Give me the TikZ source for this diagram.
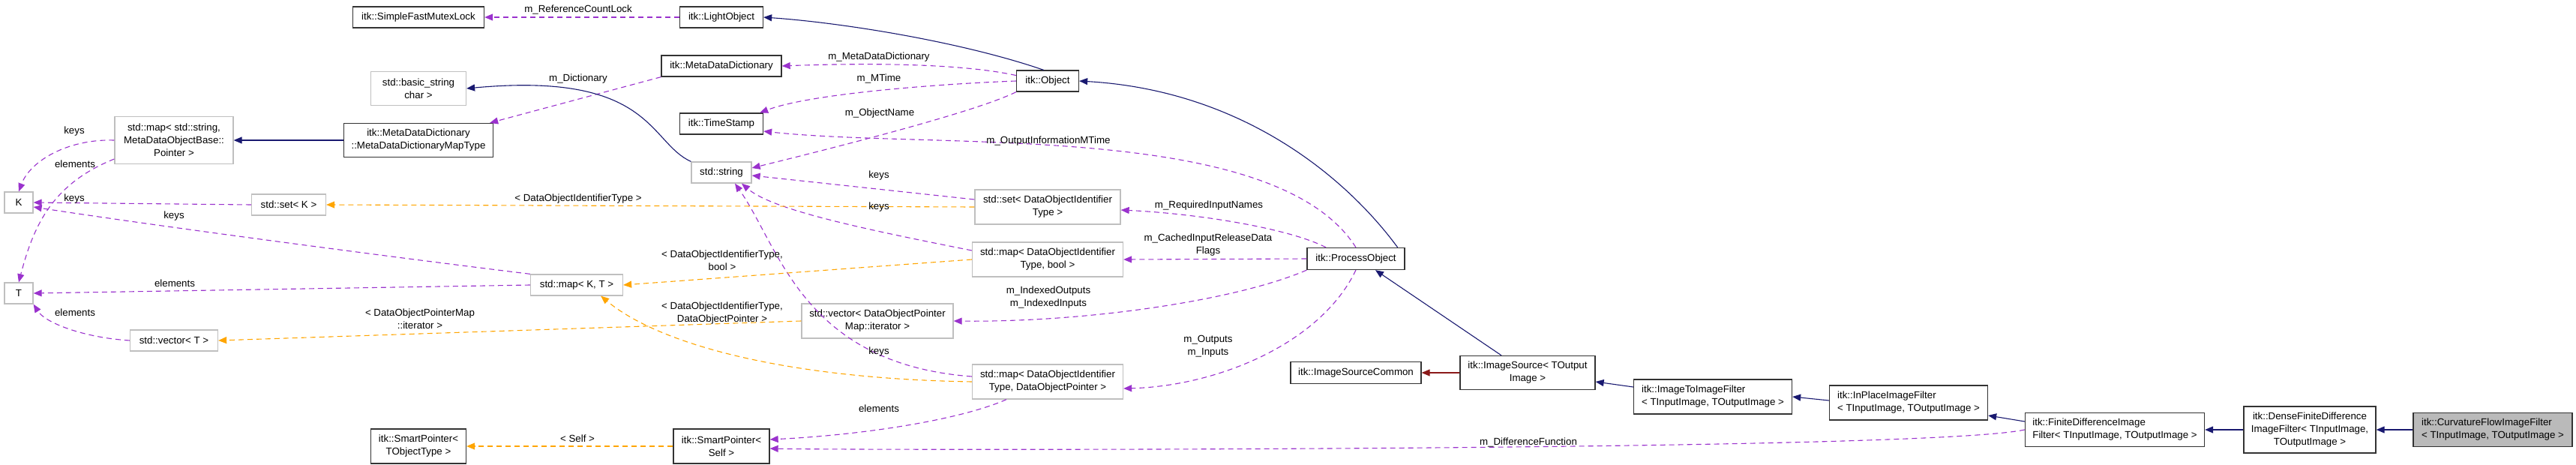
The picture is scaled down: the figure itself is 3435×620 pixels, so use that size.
\documentclass[tikz,border=0pt]{standalone}
\usepackage{fontspec}
\setmainfont{Liberation Sans}
\usetikzlibrary{arrows.meta}
\definecolor{navy}{HTML}{191970}
\definecolor{purp}{HTML}{9A32CD}
\definecolor{orng}{HTML}{FFA500}
\definecolor{dred}{HTML}{8B1A1A}
\begin{document}
\begin{tikzpicture}[x=1pt,y=-1pt,
 every node/.style={font=\fontsize{13.3}{17}\selectfont, inner sep=0pt, align=center},
 cls/.style={draw=black!80, line width=1.3pt, fill=white},
 ext/.style={draw=black!25, line width=1.3pt, fill=white},
 cur/.style={draw=black!80, line width=1.3pt, fill=black!27},
 tip/.style={-{Triangle[length=11pt,width=9pt]}},
 inh/.style={draw=navy, line width=1.1pt, tip},
 red/.style={draw=dred, line width=1.1pt, tip},
 use/.style={draw=purp, line width=1.1pt, dash pattern=on 7pt off 5pt, tip},
 tpl/.style={draw=orng, line width=1.1pt, dash pattern=on 7pt off 5pt, tip}]
\useasboundingbox (0,0) rectangle (3435,620);
% nodes
\node[cls,minimum width=175pt,minimum height=28pt] (sfml) at (558,23) {itk::SimpleFastMutexLock};
\node[cls,minimum width=111pt,minimum height=28pt] (lo) at (962,23) {itk::LightObject};
\node[cls,minimum width=160pt,minimum height=28pt] (mdd) at (962,88) {itk::MetaDataDictionary};
\node[cls,minimum width=83pt,minimum height=28pt] (obj) at (1397,108) {itk::Object};
\node[cls,minimum width=111pt,minimum height=28pt] (ts) at (962,165) {itk::TimeStamp};
\node[ext,minimum width=127pt,minimum height=45pt] (bs) at (558,118) {std::basic\_string\\char >};
\node[cls,minimum width=199pt,minimum height=45pt] (mt) at (558,187) {itk::MetaDataDictionary\\::MetaDataDictionaryMapType};
\node[ext,minimum width=158pt,minimum height=63pt] (ms) at (232,187) {std::map< std::string,\\MetaDataObjectBase::\\Pointer >};
\node[ext,minimum width=80pt,minimum height=28pt] (str) at (962,230) {std::string};
\node[ext,minimum width=38pt,minimum height=28pt] (K) at (25,270) {K};
\node[ext,minimum width=38pt,minimum height=28pt] (T) at (25,391) {T};
\node[ext,minimum width=99pt,minimum height=28pt] (sk) at (385,273) {std::set< K >};
\node[ext,minimum width=123pt,minimum height=28pt] (mkt) at (769,380) {std::map< K, T >};
\node[ext,minimum width=117pt,minimum height=28pt] (vt) at (232,454) {std::vector< T >};
\node[cls,minimum width=127pt,minimum height=46pt] (spt) at (558,595) {itk::SmartPointer<\\TObjectType >};
\node[cls,minimum width=128pt,minimum height=46pt] (sps) at (962,595) {itk::SmartPointer<\\Self >};
\node[ext,minimum width=194pt,minimum height=46pt] (sd) at (1397,276) {std::set< DataObjectIdentifier\\Type >};
\node[ext,minimum width=201pt,minimum height=46pt] (mb) at (1397,346) {std::map< DataObjectIdentifier\\Type, bool >};
\node[ext,minimum width=202pt,minimum height=46pt] (vd) at (1170,428) {std::vector< DataObjectPointer\\Map::iterator >};
\node[ext,minimum width=201pt,minimum height=46pt] (md) at (1397,509) {std::map< DataObjectIdentifier\\Type, DataObjectPointer >};
\node[cls,minimum width=130pt,minimum height=29pt] (po) at (1808,345) {itk::ProcessObject};
\node[cls,minimum width=174pt,minimum height=29pt] (isc) at (1808,497) {itk::ImageSourceCommon};
\node[cls,minimum width=180pt,minimum height=45pt] (is) at (2037,497) {itk::ImageSource< TOutput\\Image >};
\node[cls,minimum width=211pt,minimum height=46pt,align=left] (iti) at (2284,529) {itk::ImageToImageFilter\\< TInputImage, TOutputImage >};
\node[cls,minimum width=211pt,minimum height=46pt,align=left] (ip) at (2545,537) {itk::InPlaceImageFilter\\< TInputImage, TOutputImage >};
\node[cls,minimum width=239pt,minimum height=45pt,align=left] (fd) at (2820,573) {itk::FiniteDifferenceImage\\Filter< TInputImage, TOutputImage >};
\node[cls,minimum width=176pt,minimum height=62pt] (dn) at (3080,573) {itk::DenseFiniteDifference\\ImageFilter< TInputImage,\\TOutputImage >};
\node[cur,minimum width=212pt,minimum height=45pt,align=left] (cv) at (3324,573) {itk::CurvatureFlowImageFilter\\< TInputImage, TOutputImage >};
% purple usage edges
\draw[use] (lo.west) -- (sfml.east);
\draw[use] (obj.170) .. controls (1280,84) and (1150,84) .. (mdd.east);
\draw[use] (obj.west) .. controls (1250,112) and (1080,125) .. ([xshift=-5pt]ts.north east);
\draw[use] (obj.south west) .. controls (1300,150) and (1100,200) .. ([yshift=6pt]str.east);
\draw[use] (mdd.south west) -- ([xshift=-5pt]mt.north east);
\draw[use] (ms.west) .. controls (90,185) and (40,215) .. (K.north);
\draw[use] ([yshift=-25pt]ms.west) .. controls (70,245) and (45,300) .. (T.north);
\draw[use] (sk.west) -- (K.east);
\draw[use] (mkt.north west) .. controls (500,340) and (200,300) .. ([yshift=-6pt]K.east);
\draw[use] (mkt.west) -- (T.east);
\draw[use] (vt.west) .. controls (110,450) and (60,430) .. (T.south east);
\draw[use] ([yshift=10pt]sd.west) -- ([yshift=-4pt]str.east);
\draw[use] ([yshift=12pt]mb.west) .. controls (1150,305) and (1030,280) .. ([xshift=27pt]str.south);
\draw[use] ([yshift=7pt]md.west) .. controls (1070,485) and (1040,330) .. ([xshift=18pt]str.south);
\draw[use] ([xshift=-55pt]md.south) .. controls (1280,560) and (1150,580) .. ([yshift=9pt]sps.east);
\draw[use] (fd.west) .. controls (2560,603) and (1100,600) .. ([yshift=-3pt]sps.east);
\draw[use] (po.north) .. controls (1700,160) and (1250,200) .. ([yshift=-10pt]ts.east);
\draw[use] ([xshift=-40pt]po.north) .. controls (1720,305) and (1600,285) .. ([yshift=-4pt]sd.east);
\draw[use] (po.west) -- (mb.east);
\draw[use] (po.south west) .. controls (1650,400) and (1450,430) .. (vd.east);
\draw[use] (po.south) .. controls (1760,460) and (1620,515) .. ([yshift=-9pt]md.east);
% orange template edges
\draw[tpl] (sd.west) -- (sk.east);
\draw[tpl] (mb.west) -- (mkt.east);
\draw[tpl] (md.west) .. controls (1050,505) and (880,460) .. ([xshift=-30pt]mkt.south east);
\draw[tpl] (vd.west) -- (vt.east);
\draw[tpl] (sps.west) -- (spt.east);
% inheritance
\draw[inh] (obj.110) .. controls (1280,55) and (1120,30) .. (lo.east);
\draw[inh] (str.north west) .. controls (865,190) and (870,95) .. (bs.east);
\draw[inh] (mt.west) -- (ms.east);
\draw[inh] ([xshift=-10pt]po.north east) .. controls (1790,230) and (1650,120) .. (obj.east);
\draw[inh] ([xshift=-35pt]is.north) -- ([xshift=26pt]po.south);
\draw[red] (is.west) -- (isc.east);
\draw[inh] ([yshift=13pt]iti.west) -- ([yshift=-12pt]is.east);
\draw[inh] ([yshift=3pt]ip.west) -- (iti.east);
\draw[inh] ([yshift=11pt]fd.west) -- ([yshift=-17pt]ip.east);
\draw[inh] (dn.west) -- (fd.east);
\draw[inh] (cv.west) -- (dn.east);
% labels
\node (l1) at (771,13) {m\_ReferenceCountLock};
\node (l2) at (1172,76) {m\_MetaDataDictionary};
\node (l3) at (1172,105) {m\_MTime};
\node (l4) at (1173,151) {m\_ObjectName};
\node (l5) at (771,105) {m\_Dictionary};
\node (l6) at (1398,188) {m\_OutputInformationMTime};
\node (l7) at (1172,234) {keys};
\node (l8) at (1172,276) {keys};
\node (l9) at (1172,469) {keys};
\node (l10) at (1172,545) {elements};
\node (l11) at (1612,274) {m\_RequiredInputNames};
\node (l12) at (1611,327) {m\_CachedInputReleaseData\\Flags};
\node (l13) at (1398,397) {m\_IndexedOutputs\\m\_IndexedInputs};
\node (l14) at (1611,462) {m\_Outputs\\m\_Inputs};
\node (l15) at (771,265) {< DataObjectIdentifierType >};
\node (l16) at (963,347) {< DataObjectIdentifierType,\\bool >};
\node (l17) at (963,418) {< DataObjectIdentifierType,\\DataObjectPointer >};
\node (l18) at (560,425) {< DataObjectPointerMap\\::iterator >};
\node (l19) at (770,585) {< Self >};
\node (l20) at (2038,590) {m\_DifferenceFunction};
\node (l21) at (99,175) {keys};
\node (l22) at (100,219) {elements};
\node (l23) at (99,265) {keys};
\node (l24) at (232,288) {keys};
\node (l25) at (233,378) {elements};
\node (l26) at (100,417) {elements};
\end{tikzpicture}
\end{document}
